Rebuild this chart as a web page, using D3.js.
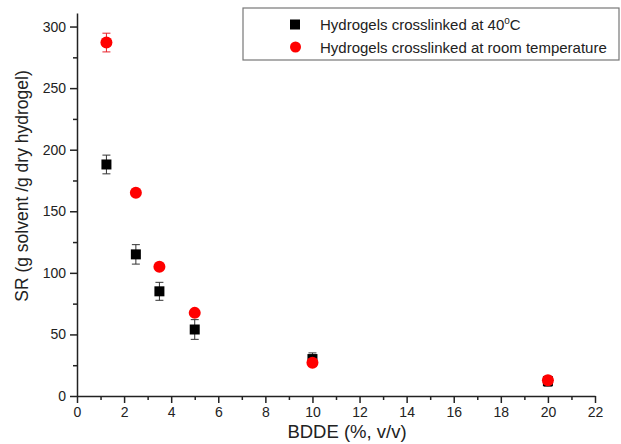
<html>
<head>
<meta charset="utf-8">
<title>SR vs BDDE</title>
<style>
  body { margin: 0; background: #fff; }
  svg { font-family: "Liberation Sans", Arial, sans-serif; }
  .axis path, .axis line { stroke: #222; }
  .axis text { font-size: 14px; fill: #222; }
</style>
<script src="https://d3js.org/d3.v7.min.js"></script>
</head>
<body>
<svg id="chart" width="621" height="444"></svg>
<script>
// data
var bdde = [1.25, 2.5, 3.5, 5, 10, 20];
var sr40 = [188, 115, 85, 54, 30, 12];
var err40 = [7.6, 7.9, 7.3, 8, 5, 4];
var srRoom = [287, 165, 105, 67.5, 27, 12.8];
var errRoom = [7.6, 0, 0, 0, 3, 3];
var xTicks = [0, 2, 4, 6, 8, 10, 12, 14, 16, 18, 20, 22];
var yTicks = [0, 50, 100, 150, 200, 250, 300];
var seriesNames = ["Hydrogels crosslinked at 40", "Hydrogels crosslinked at room temperature"];

var svg = d3.select("#chart"),
    margin = {top: 13, right: 26, bottom: 48, left: 77},
    width = 621 - margin.left - margin.right,
    height = 444 - margin.top - margin.bottom,
    g = svg.append("g").attr("transform", "translate(" + margin.left + "," + margin.top + ")");

var x = d3.scaleLinear().domain([0, 22]).range([0, width]);
var y = d3.scaleLinear().domain([0, 311]).range([height, 0]);

// minor ticks
g.append("g").attr("class", "axis")
  .attr("transform", "translate(0," + height + ")")
  .call(d3.axisBottom(x).tickValues(d3.range(1, 22, 2)).tickSize(4).tickFormat(""))
  .select(".domain").remove();
g.append("g").attr("class", "axis")
  .call(d3.axisLeft(y).tickValues(d3.range(25, 300, 50)).tickSize(4).tickFormat(""))
  .select(".domain").remove();

// major axes
g.append("g").attr("class", "axis")
  .attr("transform", "translate(0," + height + ")")
  .call(d3.axisBottom(x).tickValues(xTicks).tickSize(7).tickSizeOuter(0).tickPadding(4));
g.append("g").attr("class", "axis")
  .call(d3.axisLeft(y).tickValues(yTicks).tickSize(7).tickSizeOuter(0).tickPadding(4));
g.selectAll(".axis path, .axis line").attr("stroke-width", 1.5);

// axis titles
svg.append("text")
  .attr("x", 347).attr("y", 438)
  .attr("text-anchor", "middle").attr("font-size", 18.5).attr("fill", "#222")
  .text("BDDE (%, v/v)");
svg.append("text")
  .attr("transform", "translate(28,186) rotate(-90)")
  .attr("text-anchor", "middle").attr("font-size", 17.5).attr("fill", "#222")
  .text("SR (g solvent /g dry hydrogel)");

function errorBars(vals, errs, color) {
  var eb = g.append("g").attr("stroke", color).attr("stroke-width", 1);
  bdde.forEach(function(d, i) {
    if (!errs[i]) return;
    var cx = x(d), top = y(vals[i] + errs[i]), bot = y(vals[i] - errs[i]);
    eb.append("line").attr("x1", cx).attr("x2", cx).attr("y1", top).attr("y2", bot);
    eb.append("line").attr("x1", cx - 4).attr("x2", cx + 4).attr("y1", top).attr("y2", top);
    eb.append("line").attr("x1", cx - 4).attr("x2", cx + 4).attr("y1", bot).attr("y2", bot);
  });
}

errorBars(sr40, err40, "#333");
g.selectAll(".sq").data(bdde).enter().append("rect")
  .attr("class", "sq")
  .attr("x", function(d) { return x(d) - 5; })
  .attr("y", function(d, i) { return y(sr40[i]) - 5; })
  .attr("width", 10).attr("height", 10)
  .attr("fill", "#000");

errorBars(srRoom, errRoom, "#e8202a");
g.selectAll(".dot").data(bdde).enter().append("circle")
  .attr("class", "dot")
  .attr("cx", function(d) { return x(d); })
  .attr("cy", function(d, i) { return y(srRoom[i]); })
  .attr("r", 6)
  .attr("fill", "#f00");

// legend
var lg = svg.append("g");
lg.append("rect").attr("x", 243).attr("y", 8).attr("width", 376).attr("height", 52)
  .attr("fill", "#fff").attr("stroke", "#777").attr("stroke-width", 1.2);
lg.append("rect").attr("x", 290).attr("y", 19.5).attr("width", 10).attr("height", 10).attr("fill", "#000");
lg.append("circle").attr("cx", 295.5).attr("cy", 47).attr("r", 5.5).attr("fill", "#f00");
var t1 = lg.append("text").attr("x", 320).attr("y", 30).attr("font-size", 15).attr("fill", "#222");
t1.append("tspan").text(seriesNames[0]);
t1.append("tspan").attr("dy", -6).attr("font-size", 10).text("o");
t1.append("tspan").attr("dy", 6).text("C");
lg.append("text").attr("x", 320).attr("y", 53).attr("font-size", 15).attr("fill", "#222")
  .text(seriesNames[1]);
</script>
</body>
</html>
